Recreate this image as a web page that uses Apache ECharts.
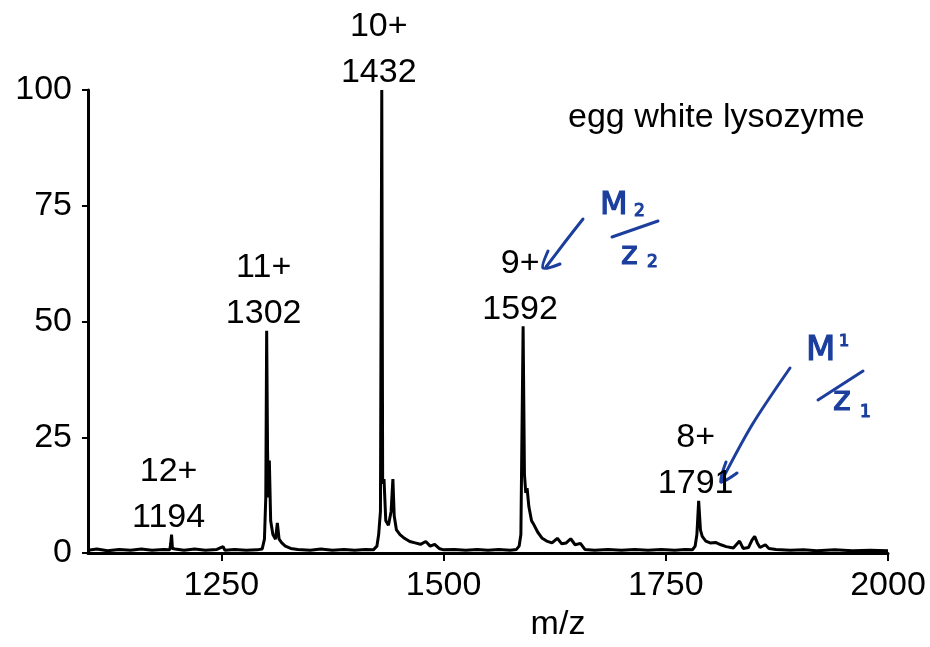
<!DOCTYPE html>
<html>
<head>
<meta charset="utf-8">
<script src="https://cdn.jsdelivr.net/npm/echarts@6/dist/echarts.min.js"></script>
<style>
  html, body { margin: 0; padding: 0; background: #fff; }
  #chart { width: 930px; height: 647px; }
</style>
</head>
<body>
<div id="chart"></div>
<script>
// spectrum: m/z and relative intensity (%)
const mz = [
  1100, 1110, 1122, 1135, 1148, 1160, 1172, 1185, 1192, 1193, 1194, 1195, 1198,
  1208, 1220, 1232, 1245, 1252, 1254, 1265, 1278, 1290, 1296, 1298.5, 1300, 1301,
  1302, 1303, 1304, 1305.5, 1308, 1311, 1313, 1315, 1318, 1322, 1328, 1336, 1350,
  1362, 1375, 1388, 1400, 1412, 1421, 1425, 1427, 1429, 1430.5, 1431.5, 1433, 1435,
  1438, 1441, 1443, 1444.5, 1447, 1451, 1456, 1462, 1468, 1474, 1480, 1485, 1490,
  1495, 1500, 1512, 1525, 1538, 1550, 1562, 1575, 1582, 1585, 1587, 1589.5, 1591,
  1592.5, 1594, 1596, 1599, 1602, 1606, 1611, 1616, 1622, 1628, 1633, 1638, 1643,
  1648, 1654, 1659, 1670, 1685, 1700, 1715, 1730, 1745, 1760, 1772, 1780, 1783,
  1785, 1787, 1789, 1791, 1795, 1800, 1806, 1812, 1818, 1826, 1833, 1837, 1843,
  1847, 1850, 1853, 1856, 1862, 1866, 1874, 1890, 1905, 1920, 1940, 1960, 1980, 2000
]
const intensity = [
  0.6, 0.9, 0.5, 0.8, 0.6, 0.9, 0.6, 0.8, 0.7, 2, 4, 1, 0.9,
  0.6, 0.9, 0.6, 0.8, 1.4, 0.6, 0.8, 0.6, 0.7, 0.9, 3, 12, 48,
  22, 12, 20, 7, 4, 3, 6.5, 3, 2.2, 1.5, 1, 0.8, 0.6,
  0.9, 0.6, 0.8, 0.6, 0.8, 0.7, 1.5, 4, 9, 100, 15, 16, 7,
  6, 9, 16, 8, 5, 4, 3.2, 2.5, 2.2, 1.9, 2.5, 1.5, 1.9,
  1.0, 0.7, 0.8, 0.6, 0.8, 0.6, 0.8, 0.6, 0.8, 1.5, 4, 49, 17,
  13, 14, 10, 7, 6, 4.5, 3.2, 2.6, 2.2, 3.2, 2, 2.2, 3.1,
  1.8, 2.1, 0.8, 0.6, 0.8, 0.6, 0.8, 0.6, 0.8, 0.6, 0.8, 0.7, 1.5,
  4, 11.3, 5, 3.6, 2.6, 2.2, 2.3, 1.8, 1.4, 1.1, 2.6, 1, 1.2,
  2.8, 3.6, 2.2, 1.2, 1.8, 1, 0.8, 0.6, 0.7, 0.5, 0.7, 0.5, 0.6, 0.5
]

// labelled charge states
const peakMz = [1194, 1301, 1430.5, 1589.5, 1787]
const peakHeight = [4, 48, 100, 49, 11.3]
const peakCharge = ['12+', '11+', '10+', '9+', '8+']
const peakName = ['1194', '1302', '1432', '1592', '1791']

const xTicks = [1250, 1500, 1750, 2000]

const ink = '#000'
const pen = '#1c3f9e'
const font = 'Liberation Sans, Arial, sans-serif'
const hand = 'DejaVu Sans, sans-serif'

const chart = echarts.init(document.getElementById('chart'))

const penLine = (points) => ({
  type: 'polyline',
  shape: { points: points, smooth: 0.3 },
  style: { stroke: pen, lineWidth: 3, fill: null, lineCap: 'round', lineJoin: 'round' }
})
// handwritten note text, thickened with a stroke of the same ink
const penText = (x, y, text, size) => ({
  type: 'text',
  x: x,
  y: y,
  style: { text: text, fill: pen, stroke: pen, lineWidth: 1.2, font: size + 'px ' + hand }
})

const option = {
  animation: false,
  backgroundColor: '#fff',
  title: {
    text: 'egg white lysozyme',
    left: 563,
    top: 96,
    textStyle: { fontFamily: font, fontSize: 34, fontWeight: 'normal', color: ink }
  },
  grid: { left: 88, right: 42, top: 90, bottom: 87 },
  xAxis: {
    type: 'value',
    min: 1100,
    max: 2000,
    name: 'm/z',
    nameLocation: 'middle',
    nameGap: 52,
    nameTextStyle: { fontFamily: font, fontSize: 34, color: ink, padding: [0, 0, 0, 140] },
    axisLine: { show: true, lineStyle: { color: ink, width: 3 } },
    axisTick: { show: true, customValues: xTicks, length: 8, inside: false, lineStyle: { color: ink, width: 2 } },
    axisLabel: {
      customValues: xTicks,
      formatter: (v) => String(v),
      fontFamily: font,
      fontSize: 34,
      color: ink,
      margin: 16
    },
    splitLine: { show: false }
  },
  yAxis: {
    type: 'value',
    min: 0,
    max: 100,
    interval: 25,
    axisLine: { show: true, lineStyle: { color: ink, width: 3 } },
    axisTick: { show: true, length: 6, lineStyle: { color: ink, width: 2 } },
    axisLabel: { formatter: (v) => String(v), fontFamily: font, fontSize: 34, color: ink, margin: 16 },
    splitLine: { show: false }
  },
  series: [
    {
      type: 'line',
      data: mz.map((m, i) => [m, intensity[i]]),
      showSymbol: false,
      lineStyle: { color: ink, width: 3 },
      z: 3
    },
    {
      type: 'scatter',
      data: peakMz.map((m, i) => [m, peakHeight[i]]),
      symbolSize: 0,
      silent: true,
      itemStyle: { opacity: 1 },
      label: {
        show: true,
        position: 'top',
        distance: 0,
        offset: [-3, 6],
        fontFamily: font,
        fontSize: 34,
        lineHeight: 46,
        color: ink,
        opacity: 1,
        textBorderWidth: 0,
        formatter: (p) => peakCharge[p.dataIndex] + '\n' + peakName[p.dataIndex]
      }
    }
  ],
  graphic: [
    // M2/z2 note and arrow to 9+
    penLine([[583, 219], [565, 242], [546, 267]]),
    penLine([[548, 251], [543, 268], [560, 264]]),
    penText(600, 190, 'M', 32),
    penText(634, 203, '2', 17),
    penLine([[612, 237], [658, 221]]),
    penText(621, 240, 'z', 32),
    penText(647, 254, '2', 17),
    // M1/z1 note and arrow to 1791
    penLine([[790, 368], [752, 425], [721, 482]]),
    penLine([[726, 462], [721, 482], [737, 473]]),
    penText(806, 334, 'M', 34),
    penText(839, 334, '1', 16),
    penLine([[818, 400], [863, 371]]),
    penText(833, 384, 'z', 34),
    penText(860, 404, '1', 17)
  ]
}

chart.setOption(option)
</script>
</body>
</html>
